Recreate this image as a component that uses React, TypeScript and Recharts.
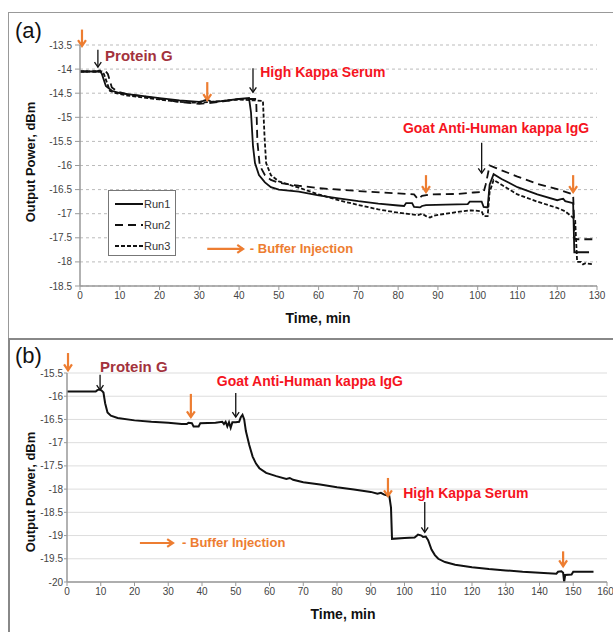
import React from 'react';
import {
  LineChart, Line, XAxis, YAxis, CartesianGrid, Legend, ReferenceLine, ReferenceDot, Label,
} from 'recharts';

// ---- panel (a): three runs ----
const RUN1_T = [0, 4, 5, 5.5, 6.5, 8, 10, 15, 20, 25, 30, 31, 32, 33, 35, 40, 42.5, 43, 43.5, 44, 45, 46.5, 48, 50, 55, 60, 65, 70, 75, 80, 81.5, 82, 83.5, 84, 85.5, 86, 87, 92, 97.5, 98, 101, 101.5, 102.5, 103, 104, 106, 110, 115, 120, 121, 121.5, 122, 124, 124.3, 128];
const RUN1_P = [-14.05, -14.05, -14.03, -14.1, -14.35, -14.45, -14.5, -14.55, -14.6, -14.65, -14.68, -14.66, -14.63, -14.68, -14.67, -14.62, -14.6, -14.9, -15.6, -15.95, -16.2, -16.35, -16.45, -16.5, -16.54, -16.62, -16.68, -16.74, -16.79, -16.83, -16.84, -16.78, -16.78, -16.86, -16.87, -16.84, -16.82, -16.81, -16.8, -16.75, -16.75, -16.86, -16.87, -16.4, -16.18, -16.28, -16.45, -16.6, -16.72, -16.7, -16.69, -16.74, -16.78, -17.8, -17.8];

const RUN2_T = [0, 6.5, 7, 8, 9.5, 12, 20, 25, 30, 33, 36, 40, 44.3, 44.6, 45.2, 46.5, 48, 50, 55, 60, 70, 80, 84, 85, 86, 88, 95, 99, 101.5, 102, 103, 104.5, 110, 115, 120, 124, 124.4, 129];
const RUN2_P = [-14.05, -14.05, -14.1, -14.38, -14.47, -14.52, -14.62, -14.68, -14.72, -14.7, -14.67, -14.62, -14.62, -15.5, -16.0, -16.2, -16.3, -16.36, -16.42, -16.47, -16.53, -16.58, -16.6, -16.7, -16.63, -16.6, -16.59, -16.56, -16.55, -16.4, -16.0, -16.05, -16.23, -16.38, -16.49, -16.6, -17.53, -17.53];

const RUN3_T = [0, 5.5, 6, 7.5, 9, 12, 20, 25, 30, 33, 36, 40, 46, 46.4, 46.8, 48, 50, 55, 60, 65, 70, 75, 80, 85, 86, 87, 88, 89, 92, 96, 98.5, 101, 101.5, 102.5, 103, 104, 106, 110, 115, 120, 122, 123.5, 124.5, 125, 126, 126.5, 127, 129];
const RUN3_P = [-14.05, -14.05, -14.1, -14.45, -14.5, -14.55, -14.63, -14.68, -14.7, -14.68, -14.66, -14.63, -14.66, -15.4, -15.95, -16.2, -16.33, -16.46, -16.6, -16.72, -16.82, -16.91, -16.98, -17.03, -17.0, -17.05, -17.08, -17.04, -17.0, -16.95, -16.93, -16.95, -17.05, -17.05, -16.55, -16.3, -16.4, -16.6, -16.75, -16.88, -16.95, -17.05, -17.12, -18.0, -18.0, -18.05, -18.03, -18.05];

const A_TIME_TICKS = [0, 10, 20, 30, 40, 50, 60, 70, 80, 90, 100, 110, 120, 130];
const A_POWER_TICKS = [-18.5, -18, -17.5, -17, -16.5, -16, -15.5, -15, -14.5, -14, -13.5];

// ---- panel (b): single run ----
const B_T = [0, 8.5, 9, 9.7, 10.3, 10.8, 11.3, 12, 13, 15, 20, 25, 30, 34, 35.5, 36, 37, 37.5, 39, 39.5, 44, 46, 46.5, 47, 47.5, 48, 48.5, 49, 50, 51, 51.5, 52, 52.5, 53, 54, 55, 56, 57, 59, 62, 65, 66, 67, 70, 75, 80, 85, 90, 92, 93, 94, 95.5, 96, 96.3, 100, 103, 104, 105, 105.5, 106.3, 107, 108, 109, 110, 112, 115, 120, 125, 130, 135, 140, 145, 145.5, 146.5, 147, 147.3, 147.6, 149.5, 150, 156];
const B_P = [-15.9, -15.9, -15.87, -15.85, -15.88, -15.92, -16.15, -16.35, -16.42, -16.47, -16.52, -16.55, -16.57, -16.6, -16.6, -16.57, -16.58, -16.65, -16.65, -16.58, -16.57, -16.55, -16.6, -16.55, -16.65, -16.56, -16.68, -16.56, -16.56, -16.55, -16.45, -16.4, -16.5, -16.75, -17.05, -17.3, -17.45, -17.55, -17.65, -17.72, -17.78, -17.76, -17.8, -17.85, -17.9, -17.96, -18.01, -18.06, -18.1, -18.08, -18.12, -18.15, -18.4, -19.07, -19.05, -19.04, -18.98, -19.0, -19.03, -19.02, -19.1, -19.3, -19.42, -19.5, -19.57, -19.63, -19.68, -19.72, -19.75, -19.78, -19.8, -19.82, -19.78, -19.77, -19.8, -20.0, -19.85, -19.84, -19.78, -19.78];

const B_TIME_TICKS = [0, 10, 20, 30, 40, 50, 60, 70, 80, 90, 100, 110, 120, 130, 140, 150, 160];
const B_POWER_TICKS = [-20, -19.5, -19, -18.5, -18, -17.5, -17, -16.5, -16, -15.5];

// annotations: arrows (t, from, to) and texts
const ORANGE = '#ED7D31';
const A_ARROWS = [
  { t: 0.5, from: -13.18, to: -13.52, c: ORANGE },
  { t: 32, from: -14.27, to: -14.64, c: ORANGE },
  { t: 87, from: -16.2, to: -16.55, c: ORANGE },
  { t: 124, from: -16.2, to: -16.55, c: ORANGE },
  { t: 4.5, from: -13.6, to: -13.96, c: '#111' },
  { t: 43.5, from: -13.98, to: -14.48, c: '#111' },
  { t: 101, from: -15.53, to: -16.16, c: '#111' },
];
const A_TEXTS = [
  { t: 6.3, p: -13.71, text: 'Protein G', c: '#A3323C', size: 15 },
  { t: 45.3, p: -14.06, text: 'High Kappa Serum', c: '#F5141E', size: 14 },
  { t: 81.2, p: -15.22, text: 'Goat Anti-Human kappa IgG', c: '#F5141E', size: 14 },
  { t: 42.7, p: -17.73, text: '- Buffer Injection', c: ORANGE, size: 13 },
];
const A_KEY_ARROW = { t1: 32, t2: 41, p: -17.73 };

const B_ARROWS = [
  { t: 0.3, from: -15.07, to: -15.44, c: ORANGE },
  { t: 36.7, from: -15.95, to: -16.45, c: ORANGE },
  { t: 95.1, from: -17.76, to: -18.15, c: ORANGE },
  { t: 147, from: -19.34, to: -19.66, c: ORANGE },
  { t: 9.8, from: -15.54, to: -15.87, c: '#111' },
  { t: 50, from: -15.93, to: -16.45, c: '#111' },
  { t: 106, from: -18.28, to: -18.93, c: '#111' },
];
const B_TEXTS = [
  { t: 9.8, p: -15.37, text: 'Protein G', c: '#A3323C', size: 15 },
  { t: 44.4, p: -15.67, text: 'Goat Anti-Human kappa IgG', c: '#F5141E', size: 14 },
  { t: 99.6, p: -18.09, text: 'High Kappa Serum', c: '#F5141E', size: 14 },
  { t: 34.1, p: -19.16, text: '- Buffer Injection', c: ORANGE, size: 13 },
];
const B_KEY_ARROW = { t1: 21.6, t2: 31.4, p: -19.16 };

const SERIES = [
  { name: 'Run1', t: RUN1_T, p: RUN1_P, dash: undefined },
  { name: 'Run2', t: RUN2_T, p: RUN2_P, dash: '8 5' },
  { name: 'Run3', t: RUN3_T, p: RUN3_P, dash: '4 2' },
];

const FONT = '"Liberation Sans", Arial, sans-serif';
const pts = (ts: number[], ps: number[]) => ts.map((t, i) => ({ t, p: ps[i] }));

const arrowShape = (color: string, width: number, h: number) => (props: any) => {
  const { x1, y1, x2, y2 } = props;
  const a = Math.atan2(y2 - y1, x2 - x1);
  const l1x = x2 - h * Math.cos(a - 0.6), l1y = y2 - h * Math.sin(a - 0.6);
  const l2x = x2 - h * Math.cos(a + 0.6), l2y = y2 - h * Math.sin(a + 0.6);
  return (
    <g>
      <line x1={x1} y1={y1} x2={x2} y2={y2} stroke={color} strokeWidth={width} />
      <path d={`M${l1x},${l1y} L${x2},${y2} L${l2x},${l2y}`} fill="none" stroke={color} strokeWidth={width} />
    </g>
  );
};

const textShape = (label: any) => (props: any) => (
  <text x={props.cx} y={props.cy} fill={label.c} fontSize={label.size} fontWeight="bold"
    fontFamily={FONT} dominantBaseline="central">{label.text}</text>
);

const yTitle = (cy: number) => () => (
  <text x={30} y={cy} transform={`rotate(-90 30 ${cy})`} textAnchor="middle" dominantBaseline="central"
    fontSize={13} fontWeight="bold" fontFamily={FONT} fill="#111">Output Power, dBm</text>
);
const xTitle = (cx: number, cy: number) => () => (
  <text x={cx} y={cy} textAnchor="middle" dominantBaseline="central"
    fontSize={14} fontWeight="bold" fontFamily={FONT} fill="#111">Time, min</text>
);

const tickStyle = { fontSize: 10, fill: '#444', fontFamily: FONT };

const renderAnnotations = (arrows: any[], texts: any[], key: any) => [
  ...arrows.map((a, i) => (
    <ReferenceLine key={`ar${i}`} segment={[{ x: a.t, y: a.from }, { x: a.t, y: a.to }]} ifOverflow="visible"
      shape={a.c === ORANGE ? arrowShape(a.c, 2.2, 7) : arrowShape(a.c, 1.3, 6)} />
  )),
  <ReferenceLine key="keyArrow" segment={[{ x: key.t1, y: key.p }, { x: key.t2, y: key.p }]} ifOverflow="visible"
    shape={arrowShape(ORANGE, 2.2, 7)} />,
  ...texts.map((l, i) => (
    <ReferenceDot key={`tx${i}`} x={l.t} y={l.p} r={0} ifOverflow="visible" shape={textShape(l)} />
  )),
];

const RunLegend = () => (
  <div style={{ border: '1px solid #777', background: '#fff', width: 68, height: 66, boxSizing: 'border-box', paddingTop: 2 }}>
    {SERIES.map((s) => (
      <div key={s.name} style={{ display: 'flex', alignItems: 'center', height: 21 }}>
        <svg width={35} height={10}>
          <line x1={6} x2={34} y1={5} y2={5} stroke="#111" strokeWidth={2} strokeDasharray={s.dash} />
        </svg>
        <span style={{ fontSize: 11, color: '#333', fontFamily: FONT }}>{s.name}</span>
      </div>
    ))}
  </div>
);

export default function App() {
  return (
    <div style={{ position: 'absolute', left: 0, top: 0, width: 613, height: 632, overflow: 'hidden', background: '#fff' }}>
      <div style={{ position: 'absolute', left: 8, top: 12, width: 640, height: 327, border: '1.5px solid #999', boxSizing: 'border-box' }} />
      <div style={{ position: 'absolute', left: 8, top: 338, width: 640, height: 320, border: '2px solid #888', boxSizing: 'border-box' }} />
      <div style={{ position: 'absolute', left: 15, top: 18, fontSize: 22, fontFamily: FONT, color: '#111' }}>(a)</div>
      <div style={{ position: 'absolute', left: 15, top: 343, fontSize: 22, fontFamily: FONT, color: '#111' }}>(b)</div>

      <div style={{ position: 'absolute', left: 0, top: 0 }}>
        <LineChart width={613} height={339} margin={{ top: 45, right: 16, bottom: 23, left: 0 }}>
          <CartesianGrid vertical={false} strokeDasharray="3 3" stroke="#bbb" />
          <XAxis type="number" dataKey="t" domain={[0, 130]} ticks={A_TIME_TICKS} height={30}
            axisLine={{ stroke: '#999', strokeWidth: 1.5 }} tickLine={{ stroke: '#999' }} tickSize={4} tick={tickStyle}>
            <Label content={xTitle(318, 318)} />
          </XAxis>
          <YAxis type="number" domain={[-18.5, -13.5]} ticks={A_POWER_TICKS} width={80}
            axisLine={{ stroke: '#999', strokeWidth: 1.5 }} tickLine={{ stroke: '#999' }} tickSize={5} tickMargin={3} tick={tickStyle}>
            <Label content={yTitle(162)} />
          </YAxis>
          {SERIES.map((s) => (
            <Line key={s.name} name={s.name} data={pts(s.t, s.p)} dataKey="p" type="linear" stroke="#111"
              strokeWidth={1.8} strokeDasharray={s.dash} dot={false} activeDot={false} isAnimationActive={false} />
          ))}
          <Legend layout="vertical" align="center" verticalAlign="middle"
            wrapperStyle={{ left: 108, top: 190, width: 68 }} content={() => <RunLegend />} />
          {renderAnnotations(A_ARROWS, A_TEXTS, A_KEY_ARROW)}
        </LineChart>
      </div>

      <div style={{ position: 'absolute', left: 0, top: 339 }}>
        <LineChart width={613} height={293} margin={{ top: 34, right: 6, bottom: 20, left: 0 }}>
          <CartesianGrid vertical={false} stroke="#ddd" />
          <XAxis type="number" dataKey="t" domain={[0, 160]} ticks={B_TIME_TICKS} height={30}
            axisLine={{ stroke: '#999', strokeWidth: 1.5 }} tickLine={{ stroke: '#999' }} tickSize={4} tick={tickStyle}>
            <Label content={xTitle(343, 275)} />
          </XAxis>
          <YAxis type="number" domain={[-20, -15.5]} ticks={B_POWER_TICKS} width={67}
            axisLine={{ stroke: '#999', strokeWidth: 1.5 }} tickLine={{ stroke: '#999' }} tickSize={3} tickMargin={1} tick={tickStyle}>
            <Label content={yTitle(153)} />
          </YAxis>
          <Line name="Run" data={pts(B_T, B_P)} dataKey="p" type="linear" stroke="#111" strokeWidth={2}
            dot={false} activeDot={false} isAnimationActive={false} />
          {renderAnnotations(B_ARROWS, B_TEXTS, B_KEY_ARROW)}
        </LineChart>
      </div>
    </div>
  );
}
